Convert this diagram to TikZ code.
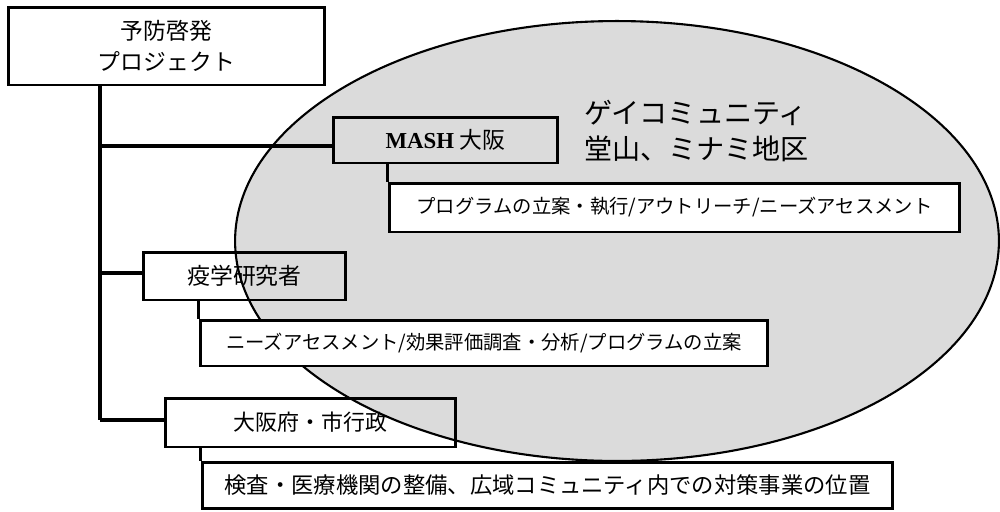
\documentclass[tikz,border=0pt]{standalone}
\usepackage{fontspec}
\usetikzlibrary{shapes.geometric}
\setmainfont{Liberation Serif}
\newfontfamily\jp{Noto Sans CJK JP}
\begin{document}
\begin{tikzpicture}[x=0.02cm,y=-0.02cm,
  box/.style={draw=black,line width=1.7pt,rectangle,inner sep=0pt,align=center},
  wbox/.style={box,fill=white},
  conn/.style={draw=black,line width=1.9pt},
  community/.style={draw=black,line width=1.2pt,fill=black!14}]
\useasboundingbox (0,0) rectangle (1000,511);
% ellipse (gay community)
\node[community,ellipse,minimum width=15.28cm,minimum height=8.8cm,inner sep=0pt] (comm) at (617,241) {};
\node[align=left,font=\jp\fontsize{16}{21}\selectfont,anchor=west] (commtext) at (578,131) {ゲイコミュニティ\\ 堂山、ミナミ地区};
% top box
\node[wbox,minimum width=6.34cm,minimum height=1.56cm,font=\jp\fontsize{13}{18}\selectfont] (top) at (166.5,46) {予防啓発\\プロジェクト};
% level-2 boxes
\node[box,minimum width=4.5cm,minimum height=0.92cm,font=\fontsize{13}{15}\selectfont] (mash) at (445.5,140) {\textbf{MASH} {\jp 大阪}};
\node[wbox,minimum width=11.42cm,minimum height=0.98cm,font=\jp\fontsize{11}{13}\selectfont] (sub1) at (674.5,207.5) {プログラムの立案・執行/アウトリーチ/ニーズアセスメント};
\node[box,minimum width=4.06cm,minimum height=0.96cm,font=\jp\fontsize{13}{15}\selectfont] (epi) at (244.5,276) {疫学研究者};
\node[wbox,minimum width=11.36cm,minimum height=0.92cm,font=\jp\fontsize{11}{13}\selectfont] (sub2) at (484,343) {ニーズアセスメント/効果評価調査・分析/プログラムの立案};
\node[box,minimum width=5.82cm,minimum height=0.98cm,font=\jp\fontsize{12.5}{15}\selectfont] (gov) at (310.5,422.5) {大阪府・市行政};
\node[wbox,minimum width=13.82cm,minimum height=0.92cm,font=\jp\fontsize{12.7}{15}\selectfont] (sub3) at (547.5,485) {検査・医療機関の整備、広域コミュニティ内での対策事業の位置};
% trunk coordinates
\coordinate (t1) at (100,146);
\coordinate (t2) at (100,273);
\coordinate (t3) at (100,420);
\coordinate (top0) at (top.south -| t1);
\draw[conn] (top0) -- (t3);
\draw[conn] (t1) -- (t1 -| mash.west);
\draw[conn] (t2) -- (t2 -| epi.west);
\draw[conn] (t3) -- (t3 -| gov.west);
% vertical connectors to sub boxes
\draw[conn] (mash.south -| sub1.west) -- (sub1.north west);
\draw[conn] (epi.south -| sub2.west) -- (sub2.north west);
\draw[conn] (gov.south -| sub3.west) -- (sub3.north west);
\end{tikzpicture}
\end{document}
